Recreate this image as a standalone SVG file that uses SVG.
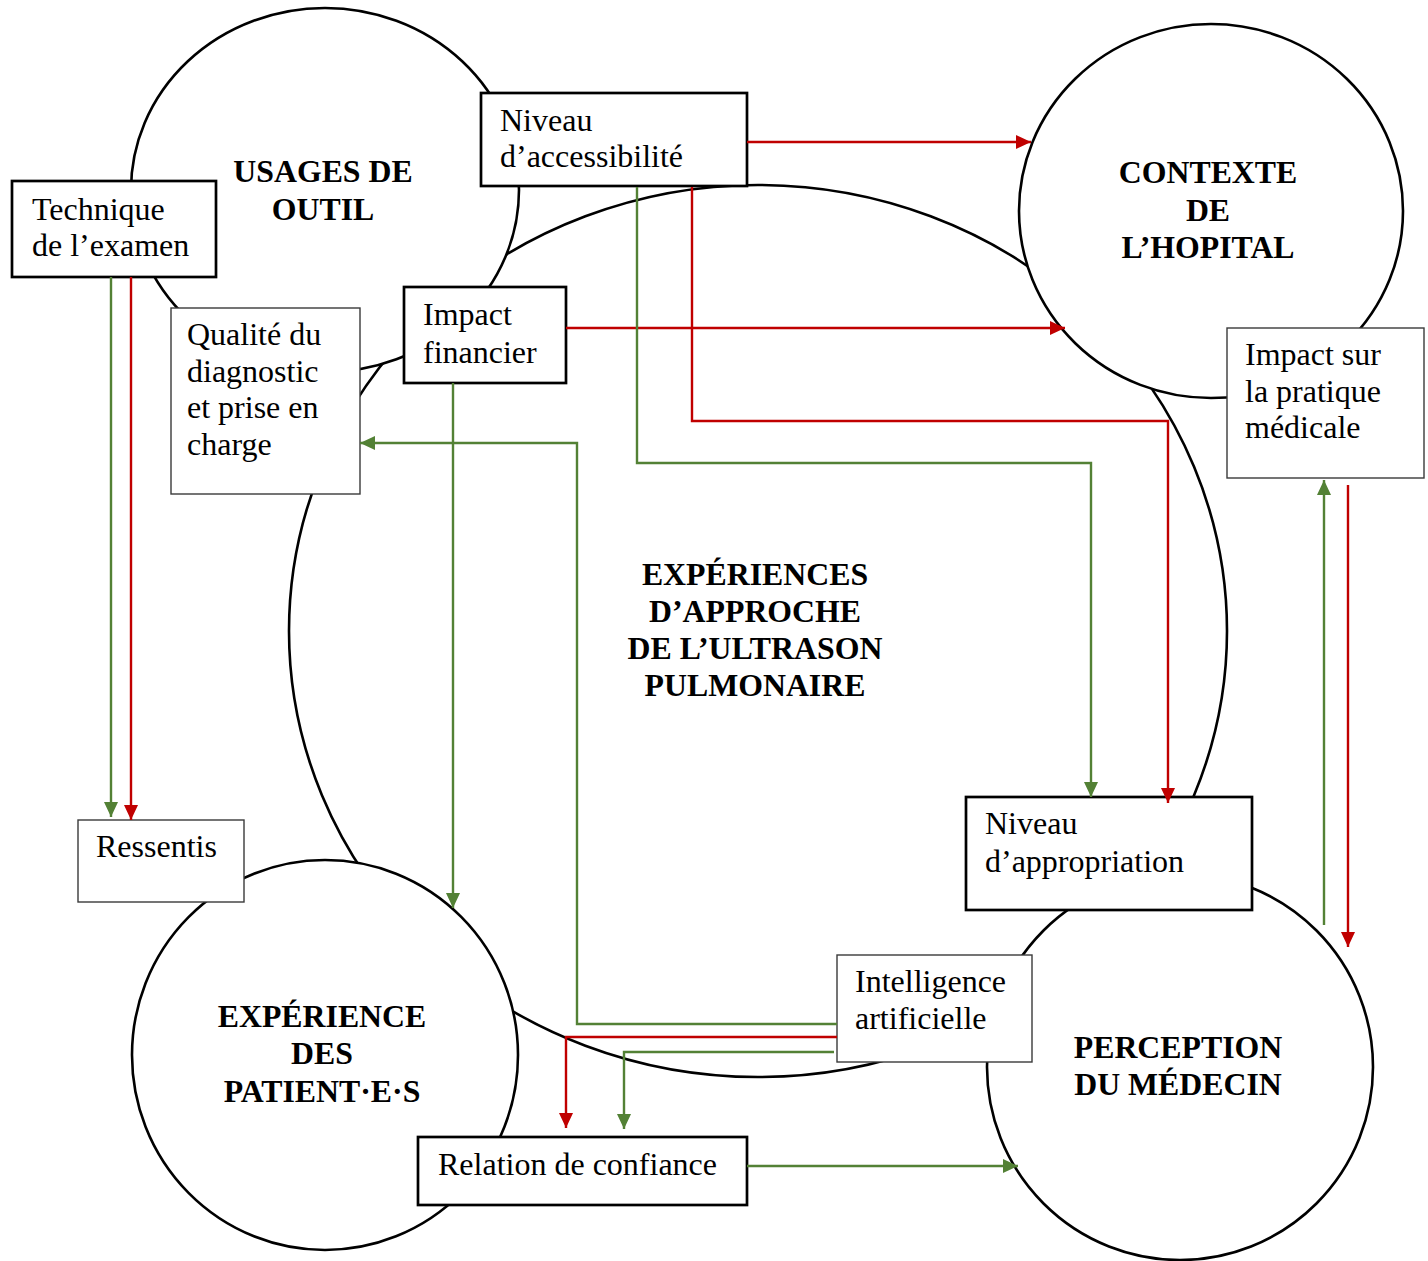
<svg xmlns="http://www.w3.org/2000/svg" width="1428" height="1261" viewBox="0 0 1428 1261">
<style>
.circ{fill:#fff;stroke:#000;stroke-width:2.6}
.thick{fill:#fff;stroke:#000;stroke-width:2.7}
.thin{fill:#fff;stroke:#3a3a3a;stroke-width:1.4}
.lbl{font-family:"Liberation Serif","Times New Roman",serif;font-size:32px;fill:#000}
.ttl{font-family:"Liberation Serif","Times New Roman",serif;font-size:31.8px;font-weight:bold;fill:#000;text-anchor:middle}
.red{fill:none;stroke:#c00000;stroke-width:2.4;marker-end:url(#ar)}
.green{fill:none;stroke:#538135;stroke-width:2.4;marker-end:url(#ag)}
</style>
<defs>
<marker id="ar" markerUnits="userSpaceOnUse" markerWidth="16" markerHeight="15" refX="15" refY="7" orient="auto"><path d="M0,0 L15,7 L0,14 z" fill="#c00000"/></marker>
<marker id="ag" markerUnits="userSpaceOnUse" markerWidth="16" markerHeight="15" refX="15" refY="7" orient="auto"><path d="M0,0 L15,7 L0,14 z" fill="#538135"/></marker>
</defs>
<rect width="1428" height="1261" fill="#fff"/>

<g id="experiences">
<ellipse class="circ" cx="758" cy="631" rx="469" ry="446"/>
<text class="ttl" x="755" y="585">EXPÉRIENCES</text>
<text class="ttl" x="755" y="622">D’APPROCHE</text>
<text class="ttl" x="755" y="659">DE L’ULTRASON</text>
<text class="ttl" x="755" y="696">PULMONAIRE</text>
</g>
<g id="usages">
<ellipse class="circ" cx="325" cy="190" rx="194" ry="182"/>
<text class="ttl" x="323" y="182">USAGES DE</text>
<text class="ttl" x="323" y="220">OUTIL</text>
</g>
<g id="contexte">
<ellipse class="circ" cx="1211" cy="211" rx="192" ry="187"/>
<text class="ttl" x="1208" y="183">CONTEXTE</text>
<text class="ttl" x="1208" y="221">DE</text>
<text class="ttl" x="1208" y="258">L’HOPITAL</text>
</g>
<g id="patients">
<ellipse class="circ" cx="325" cy="1055" rx="193" ry="195"/>
<text class="ttl" x="322" y="1027">EXPÉRIENCE</text>
<text class="ttl" x="322" y="1064">DES</text>
<text class="ttl" x="322" y="1102">PATIENT·E·S</text>
</g>
<g id="perception">
<ellipse class="circ" cx="1180" cy="1067" rx="193" ry="193"/>
<text class="ttl" x="1178" y="1058">PERCEPTION</text>
<text class="ttl" x="1178" y="1095">DU MÉDECIN</text>
</g>

<g id="technique">
<rect class="thick" x="12" y="181" width="204" height="96"/>
<text class="lbl" x="32" y="220">Technique</text>
<text class="lbl" x="32" y="256">de l’examen</text>
</g>
<g id="accessibilite">
<rect class="thick" x="481" y="93" width="266" height="93"/>
<text class="lbl" x="500" y="131">Niveau</text>
<text class="lbl" x="500" y="167">d’accessibilité</text>
</g>
<g id="financier">
<rect class="thick" x="404" y="287" width="162" height="96"/>
<text class="lbl" x="423" y="325">Impact</text>
<text class="lbl" x="423" y="363">financier</text>
</g>
<g id="qualite">
<rect class="thin" x="171" y="308" width="189" height="186"/>
<text class="lbl" x="187" y="345">Qualité du</text>
<text class="lbl" x="187" y="382">diagnostic</text>
<text class="lbl" x="187" y="418">et prise en</text>
<text class="lbl" x="187" y="455">charge</text>
</g>
<g id="pratique">
<rect class="thin" x="1227" y="328" width="197" height="150"/>
<text class="lbl" x="1245" y="365">Impact sur</text>
<text class="lbl" x="1245" y="402">la pratique</text>
<text class="lbl" x="1245" y="438">médicale</text>
</g>
<g id="appropriation">
<rect class="thick" x="966" y="797" width="286" height="113"/>
<text class="lbl" x="985" y="834">Niveau</text>
<text class="lbl" x="985" y="872">d’appropriation</text>
</g>
<g id="ressentis">
<rect class="thin" x="78" y="820" width="166" height="82"/>
<text class="lbl" x="96" y="857">Ressentis</text>
</g>
<g id="ia">
<rect class="thin" x="837" y="955" width="195" height="107"/>
<text class="lbl" x="855" y="992">Intelligence</text>
<text class="lbl" x="855" y="1029">artificielle</text>
</g>
<g id="confiance">
<rect class="thick" x="418" y="1137" width="329" height="68"/>
<text class="lbl" x="438" y="1175">Relation de confiance</text>
</g>

<g id="connectors">
<path class="red" d="M747,142 H1031"/>
<path class="red" d="M566,328 H1065"/>
<path class="red" d="M692,187 V421 H1168 V803"/>
<path class="red" d="M131,277 V820"/>
<path class="red" d="M1348,485 V947"/>
<path class="red" d="M837,1037 H566 V1128"/>
<path class="green" d="M111,277 V817"/>
<path class="green" d="M637,187 V463 H1091 V797"/>
<path class="green" d="M453,383 V908"/>
<path class="green" d="M837,1024 H577 V443 H360"/>
<path class="green" d="M834,1052 H624 V1129"/>
<path class="green" d="M747,1166 H1018"/>
<path class="green" d="M1324,925 V480"/>
</g>
</svg>
